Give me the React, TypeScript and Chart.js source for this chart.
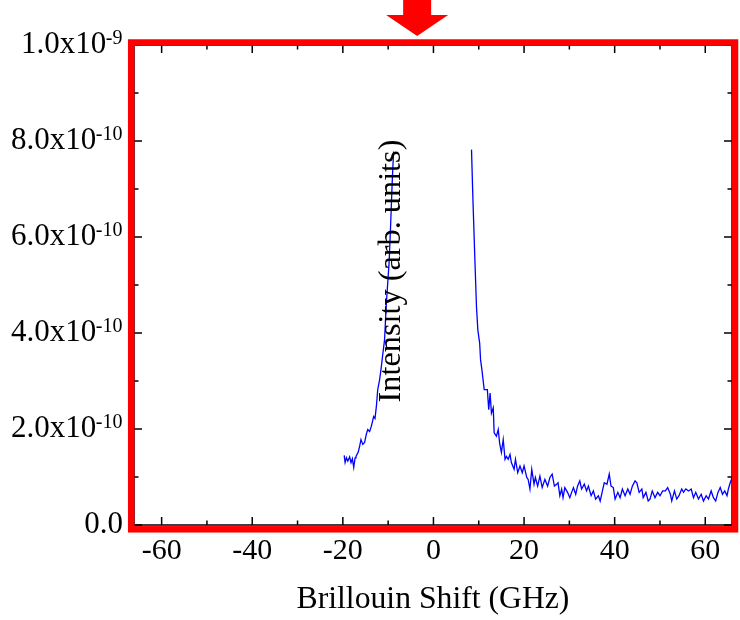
import { useEffect, useRef } from "react";
import { Chart, registerables } from "chart.js";

Chart.register(...registerables);

// Anti-Stokes branch (GHz, intensity in units of 1e-10)
const leftShift = [
  -19.7, -19.5, -19.2, -18.9, -18.5, -18.2, -17.9, -17.6, -17.3, -17.1, -16.6, -16.3, -16.0,
  -15.6, -15.2, -14.8, -14.5, -14.1, -13.7, -13.2, -12.9, -12.6, -12.3, -11.9, -11.5, -11.2,
  -10.8, -10.4, -9.8, -9.5, -9.1, -8.8,
];
const leftIntensity = [
  1.45, 1.3, 1.4, 1.33, 1.42, 1.3, 1.38, 1.2, 1.4, 1.43, 1.52, 1.64, 1.78,
  1.68, 1.72, 1.9, 1.99, 1.95, 2.06, 2.26, 2.22, 2.47, 2.82, 3.02, 3.3, 3.55,
  3.85, 4.62, 5.45, 6.13, 7.16, 7.78,
];

// Stokes branch (GHz, intensity in units of 1e-10)
const rightShift = [
  8.4, 8.7, 9.1, 9.5, 9.8, 10.2, 10.4, 10.7, 11.2, 11.9, 12.2, 12.5, 12.8, 13.2, 13.4, 13.9,
  14.3, 14.6, 15.0, 15.4, 15.8, 16.1, 16.5, 16.9, 17.2, 17.8, 18.1, 18.6, 19.1, 19.6, 20.0,
  20.6, 20.9, 21.3, 21.7, 22.2, 22.5, 23.0, 23.5, 24.0, 24.6, 25.2, 25.7, 26.2, 26.7, 27.2,
  27.5, 27.9, 28.3, 28.6, 29.0, 29.6, 30.1, 30.5, 30.9, 31.4, 31.8, 32.3, 32.7, 33.3, 33.8,
  34.2, 34.8, 35.3, 35.8, 36.4, 36.8, 37.3, 37.7, 38.3, 38.8, 39.2, 39.7, 40.1, 40.7, 41.2,
  41.7, 42.3, 42.9, 43.4, 43.9, 44.5, 44.9, 45.4, 46.0, 46.3, 46.9, 47.4, 47.8, 48.3, 48.9,
  49.5, 50.0, 50.6, 51.2, 51.7, 52.3, 52.6, 53.2, 53.7, 54.2, 54.8, 55.2, 55.7, 56.3, 56.9,
  57.4, 57.9, 58.5, 59.1, 59.6, 60.2, 60.7, 61.3, 61.8, 62.3, 62.8, 63.3, 63.8, 64.3, 64.8,
  65.1, 65.5, 65.8, 66.2,
];
const rightIntensity = [
  7.82, 6.82, 5.65, 4.54, 4.06, 3.79, 3.44, 3.23, 2.82, 2.82, 2.4, 2.75, 2.33, 2.44, 1.92, 1.85,
  1.99, 1.71, 1.51, 1.78, 1.37, 1.43, 1.37, 1.47, 1.3, 1.16, 1.37, 1.09, 1.23, 1.09, 1.23,
  0.99, 0.95, 0.75, 1.16, 0.85, 0.99, 0.81, 1.02, 0.78, 0.95, 0.81, 0.99, 1.06, 0.81, 0.85,
  0.88, 0.61, 0.75, 0.57, 0.78, 0.68, 0.57, 0.68, 0.78, 0.64, 0.81, 0.92, 0.75, 0.85, 0.71,
  0.81, 0.61, 0.71, 0.54, 0.61, 0.5, 0.71, 0.88, 0.85, 1.06, 0.81, 0.78, 0.54, 0.68, 0.57,
  0.75, 0.61, 0.75, 0.64, 0.81, 0.92, 0.88, 0.68, 0.75, 0.57, 0.68, 0.5, 0.54, 0.71, 0.57,
  0.68, 0.61, 0.71, 0.71, 0.78, 0.64, 0.5, 0.71, 0.54, 0.61, 0.75, 0.68, 0.75, 0.71, 0.75,
  0.57, 0.68, 0.54, 0.64, 0.5, 0.61, 0.54, 0.71, 0.57, 0.5, 0.68, 0.78, 0.64, 0.71, 0.61,
  0.75, 0.88, 0.95, 1.02,
];

const xMajorTicks = [-60, -40, -20, 0, 20, 40, 60];
const xMinorTicks = [-50, -30, -10, 10, 30, 50];
const xTickLabels = ["-60", "-40", "-20", "0", "20", "40", "60"];
const yMajorTicks = [0, 2, 4, 6, 8, 10];
const yMinorTicks = [1, 3, 5, 7, 9];
const yTickMantissa = ["0.0", "2.0x10", "4.0x10", "6.0x10", "8.0x10", "1.0x10"];
const yTickExponent = ["", "-10", "-10", "-10", "-10", "-9"];
const xTitle = "Brillouin Shift (GHz)";
const yTitle = "Intensity (arb. units)";
const arrowShift = -3.6;

const SERIF = '"Liberation Serif", "Times New Roman", Times, serif';

const decorPlugin = {
  id: "decor",
  afterDraw(chart: any) {
    const { ctx, chartArea: a } = chart;
    const xs = chart.scales.x;
    const ys = chart.scales.y;
    ctx.save();

    // ticks (inward, mirrored)
    ctx.strokeStyle = "#000";
    ctx.lineWidth = 1.5;
    const tick = (x1: number, y1: number, x2: number, y2: number) => {
      ctx.beginPath();
      ctx.moveTo(x1, y1);
      ctx.lineTo(x2, y2);
      ctx.stroke();
    };
    const xTick = (v: number, len: number) => {
      const px = xs.getPixelForValue(v);
      tick(px, a.bottom, px, a.bottom - len);
      tick(px, a.top, px, a.top + len);
    };
    const yTick = (v: number, len: number) => {
      const py = ys.getPixelForValue(v);
      tick(a.left, py, a.left + len, py);
      tick(a.right, py, a.right - len, py);
    };
    xMajorTicks.forEach((v) => xTick(v, 8));
    xMinorTicks.forEach((v) => xTick(v, 4.5));
    yMajorTicks.forEach((v) => yTick(v, 8));
    yMinorTicks.forEach((v) => yTick(v, 4.5));

    ctx.strokeRect(a.left, a.top, a.right - a.left, a.bottom - a.top);

    // red frame
    ctx.strokeStyle = "#ff0000";
    ctx.lineWidth = 6.5;
    const l = a.left - 2.8;
    const t = a.top - 2.5;
    const r = a.right + 3;
    const b = a.bottom + 4.3;
    ctx.strokeRect(l, t, r - l, b - t);

    // arrow marker
    const cx = xs.getPixelForValue(arrowShift);
    ctx.fillStyle = "#ff0000";
    ctx.beginPath();
    ctx.moveTo(cx - 14, 0);
    ctx.lineTo(cx + 14, 0);
    ctx.lineTo(cx + 14, 15);
    ctx.lineTo(cx + 31, 15);
    ctx.lineTo(cx, 36);
    ctx.lineTo(cx - 31, 15);
    ctx.lineTo(cx - 14, 15);
    ctx.closePath();
    ctx.fill();

    // x tick labels
    ctx.fillStyle = "#000";
    ctx.font = `30px ${SERIF}`;
    ctx.textAlign = "center";
    ctx.textBaseline = "alphabetic";
    xMajorTicks.forEach((v, i) => {
      ctx.fillText(xTickLabels[i], xs.getPixelForValue(v), 558.5);
    });

    // y tick labels with superscripts
    const rightEdge = 122.5;
    yMajorTicks.forEach((v, i) => {
      const py = ys.getPixelForValue(v);
      ctx.textAlign = "right";
      let supW = 0;
      if (yTickExponent[i]) {
        ctx.font = `20px ${SERIF}`;
        supW = ctx.measureText(yTickExponent[i]).width;
        ctx.fillText(yTickExponent[i], rightEdge, py - 1);
      }
      ctx.font = `31px ${SERIF}`;
      ctx.fillText(yTickMantissa[i], rightEdge - supW + 0.5, py + 8);
    });

    // axis titles
    ctx.font = `31.7px ${SERIF}`;
    ctx.textAlign = "center";
    ctx.fillText(xTitle, (a.left + a.right) / 2, 607.5);

    ctx.font = `32.3px ${SERIF}`;
    ctx.translate(399.5, 271);
    ctx.rotate(-Math.PI / 2);
    ctx.fillText(yTitle, 0, 0);

    ctx.restore();
  },
};

export default function App() {
  const ref = useRef<HTMLCanvasElement | null>(null);

  useEffect(() => {
    if (!ref.current) return;
    const toPoints = (xs: number[], ys: number[]) => xs.map((x, i) => ({ x, y: ys[i] }));
    const chart = new Chart(ref.current, {
      type: "line",
      data: {
        datasets: [
          {
            data: toPoints(leftShift, leftIntensity),
            borderColor: "#0000ff",
            borderWidth: 1.3,
            pointRadius: 0,
            tension: 0,
          },
          {
            data: toPoints(rightShift, rightIntensity),
            borderColor: "#0000ff",
            borderWidth: 1.3,
            pointRadius: 0,
            tension: 0,
          },
        ],
      },
      options: {
        responsive: false,
        animation: false,
        devicePixelRatio: 1,
        layout: { padding: { left: 134, right: 8, top: 45, bottom: 95 } },
        plugins: { legend: { display: false }, tooltip: { enabled: false } },
        scales: {
          x: { type: "linear", min: -66.1, max: 65.9, display: false },
          y: { type: "linear", min: 0, max: 10, display: false },
        },
      },
      plugins: [decorPlugin],
    });
    return () => chart.destroy();
  }, []);

  return (
    <div style={{ position: "fixed", left: 0, top: 0, width: 740, height: 620, background: "#fff" }}>
      <canvas ref={ref} width={740} height={620} style={{ display: "block" }} />
    </div>
  );
}
